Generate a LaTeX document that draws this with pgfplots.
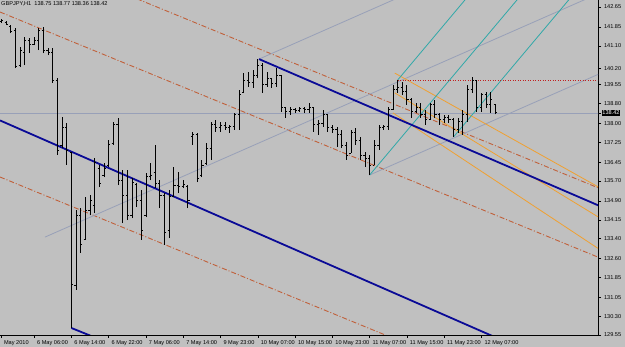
\documentclass[border=0pt]{standalone}
\usepackage{pgfplots}
\pgfplotsset{compat=1.18}
\usepackage{pgfplotstable}
\usepackage{fontspec}
\setmainfont{Liberation Sans}
\definecolor{mtbg}{HTML}{C0C0C0}
\definecolor{navyl}{HTML}{0A0A96}
\definecolor{brownd}{HTML}{C0603A}
\definecolor{greyl}{HTML}{98A0B8}
\definecolor{orangel}{HTML}{F0A030}
\definecolor{teall}{HTML}{30A8A8}
\definecolor{redd}{HTML}{C02020}
\newcommand{\mtfont}{\fontsize{5.6}{6.5}\selectfont}

\pgfplotstableread{
x o h l c
0 142.09 142.17 142.01 142.13
1 142.05 142.09 141.93 141.97
2 141.89 141.93 141.61 141.69
3 141.73 141.81 140.21 140.29
4 140.33 141.05 140.25 140.93
5 140.85 141.45 140.33 141.33
6 141.33 141.41 140.81 141.17
7 141.17 141.45 141.13 141.33
8 141.33 141.81 140.93 141.73
9 141.73 141.85 140.81 140.93
10 140.93 141.01 140.73 140.85
11 140.85 141.01 139.62 139.73
12 139.73 139.81 136.74 136.94
13 137.14 138.26 137.02 137.82
14 137.82 138.02 136.34 136.94
15 136.86 136.86 129.83 131.55
16 131.51 134.54 131.35 134.34
17 134.34 134.62 132.83 133.15
18 133.35 135.06 133.35 134.54
19 134.54 135.14 134.34 134.94
20 134.74 136.62 134.42 136.46
21 136.22 136.34 135.46 135.62
22 135.94 136.42 135.86 136.22
23 136.34 137.34 136.26 137.18
24 137.22 138.06 137.14 137.94
25 137.94 138.22 135.54 135.74
26 135.74 136.14 134.02 135.14
27 135.14 136.14 134.14 134.34
28 134.34 135.82 134.22 135.66
29 135.58 135.62 134.66 134.94
30 134.94 135.34 133.35 133.74
31 134.34 136.02 134.26 135.90
32 135.90 136.42 135.74 135.94
33 136.06 137.14 135.42 135.62
34 135.62 135.74 134.62 135.14
35 135.14 135.22 133.15 133.66
36 133.74 135.34 133.42 135.10
37 135.10 136.26 135.06 135.54
38 135.54 136.06 135.22 135.50
39 135.50 135.74 135.42 135.58
40 135.50 135.54 134.62 134.94
41 137.46 137.66 137.14 137.54
42 137.54 137.62 135.66 135.82
43 135.94 136.54 135.86 136.34
44 136.42 137.22 136.34 137.02
45 137.02 138.06 136.54 137.94
46 137.94 138.14 137.66 137.82
47 137.82 138.06 137.66 137.90
48 137.90 138.06 137.74 137.82
49 137.82 137.94 137.62 137.86
50 137.86 138.42 137.74 138.34
51 138.34 139.34 137.74 139.14
52 139.22 140.01 139.22 139.73
53 139.73 140.05 139.46 139.65
54 139.65 140.13 139.42 139.93
55 139.93 140.57 139.81 140.33
56 140.33 140.41 139.22 139.54
57 139.54 140.05 139.46 139.81
58 139.81 139.81 139.42 139.58
59 139.58 140.21 139.46 139.93
60 139.93 139.93 138.46 138.62
61 138.62 138.62 138.22 138.46
62 138.46 138.66 138.34 138.54
63 138.54 138.62 138.42 138.50
64 138.50 138.66 138.46 138.58
65 138.58 138.66 138.42 138.54
66 138.54 138.82 138.42 138.62
67 138.62 138.62 137.66 137.94
68 137.94 138.14 137.54 137.98
69 137.98 138.54 137.86 138.34
70 138.34 138.34 137.66 137.82
71 137.82 137.94 137.62 137.74
72 137.74 137.86 137.06 137.54
73 137.54 137.74 137.02 137.14
74 137.14 137.26 136.54 136.74
75 136.82 137.74 136.82 137.62
76 137.62 137.82 137.14 137.34
77 137.34 137.46 136.54 136.74
78 136.74 136.86 136.26 136.62
79 136.62 136.74 135.94 136.34
80 136.34 137.34 136.34 137.14
81 137.14 137.94 136.94 137.82
82 137.82 137.94 137.74 137.86
83 137.86 138.66 137.74 138.54
84 138.54 139.54 138.54 139.34
85 139.34 139.73 139.22 139.42
86 139.42 139.65 139.14 139.26
87 139.26 139.54 138.74 138.94
88 138.94 139.02 138.22 138.46
89 138.46 138.82 138.42 138.62
90 138.62 138.82 138.22 138.34
91 138.34 138.54 137.94 138.14
92 138.14 138.82 138.14 138.74
93 138.74 138.94 138.22 138.34
94 138.34 138.42 137.94 138.14
95 138.14 138.34 138.02 138.22
96 138.22 138.34 138.02 138.14
97 138.14 138.22 137.46 137.74
98 137.74 138.22 137.62 138.06
99 138.06 138.54 137.54 138.34
100 138.34 139.54 138.06 139.34
101 139.34 139.85 139.22 139.73
102 139.73 139.73 138.46 138.62
103 138.62 139.22 138.46 139.14
104 139.14 139.26 138.62 138.74
105 138.74 139.26 138.42 138.94
106 138.75 138.77 138.36 138.42
}\bars

\begin{document}
\begin{tikzpicture}
\fill[mtbg] (0pt,0pt) rectangle (625pt,347pt);
\path[use as bounding box] (0pt,0pt) rectangle (625pt,347pt);
\begin{axis}[
  at={(0pt,12pt)}, anchor=south west,
  width=598pt, height=335pt, scale only axis,
  xmin=-0.32, xmax=128.0, ymin=129.55, ymax=142.93,
  axis x line*=bottom, axis y line*=right,
  axis line style={-, black, line width=0.8pt},
  ytick={142.65,141.85,141.10,140.20,139.55,138.80,138.00,137.25,136.45,135.70,134.90,134.15,133.40,132.60,131.85,131.05,130.30,129.55},
  yticklabels={142.65,141.85,141.10,140.20,139.55,138.80,138.00,137.25,136.45,135.70,134.90,134.15,133.40,132.60,131.85,131.05,130.30,129.55},
  xtick={-0.1,7,15,23,31,39,47,55,63,71,79,87,95,103},
  xticklabels={May 2010,6 May 06:00,6 May 14:00,6 May 22:00,7 May 06:00,7 May 14:00,9 May 23:00,10 May 07:00,10 May 15:00,10 May 23:00,11 May 07:00,11 May 15:00,11 May 23:00,12 May 07:00},
  extra y ticks={138.42},
  extra y tick labels={138.42},
  extra y tick style={yticklabel style={fill=black, text=white, inner sep=0.7pt, xshift=1pt}},
  tick style={black, line width=0.6pt},
  major tick length=3pt,
  tick align=outside,
  yticklabel style={font=\mtfont, anchor=west, xshift=-0.5pt},
  xticklabel style={font=\mtfont, anchor=north west, xshift=-0.5pt, yshift=1pt},
]
% horizontal bid line
\addplot[greyl, line width=0.8pt] coordinates {(-0.32,138.42) (128.4,138.42)};
% brown dash-dot channel lines
\addplot[brownd, line width=0.9pt, dash pattern=on 5pt off 2pt on 1pt off 2pt] coordinates {(-0.32,142.45) (128.4,132.63)};
\addplot[brownd, line width=0.9pt, dash pattern=on 5pt off 2pt on 1pt off 2pt] coordinates {(21.1,143.585) (128.4,135.40)};
\addplot[brownd, line width=0.9pt, dash pattern=on 5pt off 2pt on 1pt off 2pt] coordinates {(-0.32,135.86) (85.5,129.31)};
% grey pitchfork
\addplot[greyl, line width=0.8pt] coordinates {(9.33,133.46) (128.4,143.21)};
\addplot[greyl, line width=0.8pt] coordinates {(55.26,140.57) (90,143.42)};
\addplot[greyl, line width=0.8pt] coordinates {(79,135.94) (128.4,139.99)};
% orange lines
\addplot[orangel, line width=0.8pt] coordinates {(84.4,140.01) (128.0,135.47)};
\addplot[orangel, line width=0.8pt] coordinates {(84.4,139.22) (128.0,134.27)};
\addplot[orangel, line width=0.8pt] coordinates {(84.0,138.42) (128.0,133.01)};
% teal pitchfork
\addplot[teall, line width=0.8pt] coordinates {(79,135.94) (115,143.9)};
\addplot[teall, line width=0.8pt] coordinates {(85,139.73) (105,144.16)};
\addplot[teall, line width=0.8pt] coordinates {(97,137.46) (125,143.66)};
% red dotted
\addplot[redd, line width=0.8pt, dash pattern=on 1pt off 1.5pt] coordinates {(85,139.73) (128.4,139.73)};
% navy channel
\addplot[navyl, line width=1.8pt] coordinates {(-0.32,138.12) (128.4,127.63)};
\addplot[navyl, line width=1.8pt] coordinates {(55.26,140.57) (128.4,134.70)};
\addplot[navyl, line width=1.8pt] coordinates {(15.0,129.83) (21.1,129.37)};
% OHLC bars
\addplot[black, line width=0.9pt, quiver={u=0, v=\thisrow{h}-\thisrow{l}}] table[x=x, y=l] {\bars};
\addplot[black, line width=0.9pt, quiver={u=0.35, v=0}] table[x expr=\thisrow{x}-0.35, y=o] {\bars};
\addplot[black, line width=0.9pt, quiver={u=0.35, v=0}] table[x=x, y=c] {\bars};
\end{axis}
\node[anchor=north west, font=\mtfont, inner sep=0pt] at (1pt,346pt) {GBPJPY,H1 \ 138.75 138.77 138.36 138.42};
\end{tikzpicture}
\end{document}
